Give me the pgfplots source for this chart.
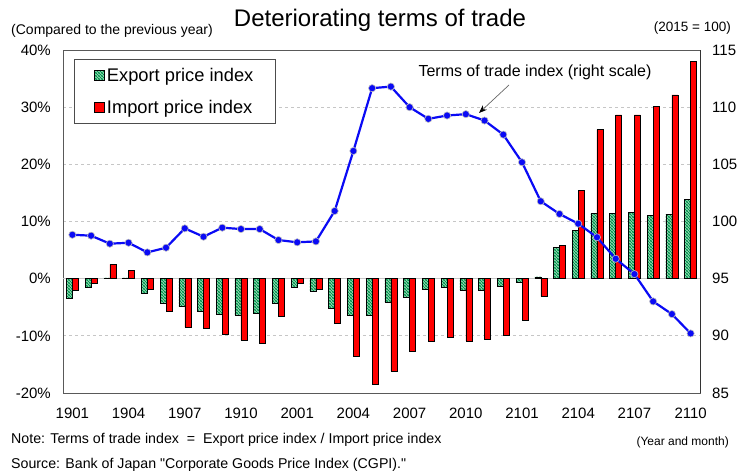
\documentclass[border=0pt]{standalone}
\usepackage{fontspec}
\setmainfont{Liberation Sans}
\usepackage{pgfplots}
\usepackage{pgfplotstable}
\pgfplotsset{compat=1.18}
\usetikzlibrary{patterns,arrows.meta}

\pgfdeclarepatternformonly{hatchnw}{\pgfqpoint{-1pt}{-1pt}}{\pgfqpoint{4pt}{4pt}}{\pgfqpoint{3pt}{3pt}}{%
 \pgfsetlinewidth{1.1pt}%
 \pgfpathmoveto{\pgfqpoint{-0.5pt}{3.5pt}}%
 \pgfpathlineto{\pgfqpoint{3.5pt}{-0.5pt}}%
 \pgfusepath{stroke}}

\definecolor{hgreen}{RGB}{0,150,75}
\definecolor{bred}{RGB}{255,0,0}
\definecolor{lblue}{RGB}{10,10,245}

\pgfplotstableread{
i exp imp tot
0 -3.5 -2.0 98.84
1 -1.5 -0.8 98.76
2 0.15 2.5 98.06
3 0.15 1.45 98.14
4 -2.6 -1.8 97.30
5 -4.3 -5.7 97.71
6 -4.9 -8.5 99.40
7 -5.7 -8.6 98.67
8 -6.2 -9.8 99.46
9 -6.4 -10.8 99.34
10 -6.1 -11.3 99.34
11 -4.3 -6.6 98.38
12 -1.5 -0.8 98.18
13 -2.2 -1.8 98.26
14 -5.2 -7.8 100.92
15 -6.4 -13.6 106.17
16 -6.4 -18.5 111.66
17 -4.1 -16.2 111.80
18 -3.3 -12.7 110.00
19 -1.8 -11.0 108.98
20 -1.5 -10.3 109.27
21 -2.0 -10.9 109.39
22 -2.05 -10.6 108.83
23 -1.4 -9.9 107.60
24 -0.65 -7.3 105.18
25 0.3 -3.1 101.77
26 5.5 5.8 100.66
27 8.5 15.46 99.81
28 11.37 26.08 98.62
29 11.43 28.65 96.74
30 11.66 28.65 95.40
31 11.08 30.1 93.01
32 11.26 32.15 91.90
33 13.89 37.99 90.21
}\data

\begin{document}
\begin{tikzpicture}
\useasboundingbox (0,0) rectangle (753pt,475pt);
\begin{axis}[
  at={(63pt,82pt)}, anchor=south west,
  width=637pt, height=343pt, scale only axis,
  xmin=-0.5, xmax=33.5, ymin=-20, ymax=40,
  xtick={0,3,...,33},
  xticklabels={1901,1904,1907,1910,2001,2004,2007,2010,2101,2104,2107,2110},
  ytick={-20,-10,...,40},
  yticklabel={\pgfmathprintnumber{\tick}\%},
  /pgf/number format/assume math mode=true,
  major tick length=0pt,
  tick label style={font=\fontsize{15}{18}\selectfont},
  yticklabel style={inner sep=0pt, xshift=-12pt},
  xticklabel style={inner sep=0pt, yshift=-15pt},
  ymajorgrids, grid style={dashed, gray!45, line width=0.8pt},
  extra y ticks={0}, extra y tick labels={},
  extra y tick style={grid style={solid, gray!45, line width=1pt}},
  axis line style={draw=black!65, line width=1pt},
  ybar=0pt, bar width=6pt,
  legend style={at={(0.0173,0.974)}, anchor=north west, draw=black!70, line width=0.8pt,
    font=\fontsize{18.3}{21}\selectfont, inner xsep=20pt, inner ysep=7pt, row sep=13pt},
  legend cell align=left,
  legend image code/.code={\draw[#1, line width=0.5pt] (0pt,-5pt) rectangle (10pt,5pt);},
]
\addplot[draw=black, line width=0.5pt, pattern=hatchnw, pattern color=hgreen] table[x=i, y=exp]{\data};
\addplot[draw=black, line width=0.5pt, fill=bred] table[x=i, y=imp]{\data};
\legend{Export price index, Import price index}
\end{axis}
\begin{axis}[
  at={(63pt,82pt)}, anchor=south west,
  width=637pt, height=343pt, scale only axis,
  xmin=-0.5, xmax=33.5, ymin=85, ymax=115,
  axis y line*=right, axis x line=none,
  ytick={85,90,...,115},
  /pgf/number format/assume math mode=true,
  major tick length=0pt,
  tick label style={font=\fontsize{15}{18}\selectfont},
  yticklabel style={inner sep=0pt, xshift=12pt},
  axis line style={draw=black!80, line width=0.8pt},
]
\addplot[lblue, line width=2.2pt, mark=*, mark size=3.6pt, mark options={fill=lblue, draw=gray!50, line width=0.6pt}] table[x=i, y=tot]{\data};
\end{axis}
\node at (380pt,455pt) {\fontsize{24}{28}\selectfont Deteriorating terms of trade};
\node[anchor=west, inner sep=0pt] at (11pt,444pt) {\fontsize{14}{16}\selectfont (Compared to the previous year)};
\node[anchor=east, inner sep=0pt] at (731pt,447pt) {\fontsize{13.5}{16}\selectfont (2015 = 100)};
\node at (535pt,403pt) {\fontsize{16}{19}\selectfont Terms of trade index (right scale)};
\draw[gray!80!black, line width=0.7pt, -{Stealth[color=black, length=8pt, width=6pt]}] (509pt,390pt) -- (479pt,362pt);
\node[anchor=west, inner sep=0pt] at (11pt,35pt) {\fontsize{14.2}{17}\selectfont Note: Terms of trade index \ = \ Export price index / Import price index};
\node[anchor=west, inner sep=0pt] at (11pt,10pt) {\fontsize{14.2}{17}\selectfont Source: Bank of Japan \textquotedbl Corporate Goods Price Index (CGPI).\textquotedbl};
\node[anchor=east, inner sep=0pt] at (729pt,33pt) {\fontsize{12}{14}\selectfont (Year and month)};
\end{tikzpicture}
\end{document}
